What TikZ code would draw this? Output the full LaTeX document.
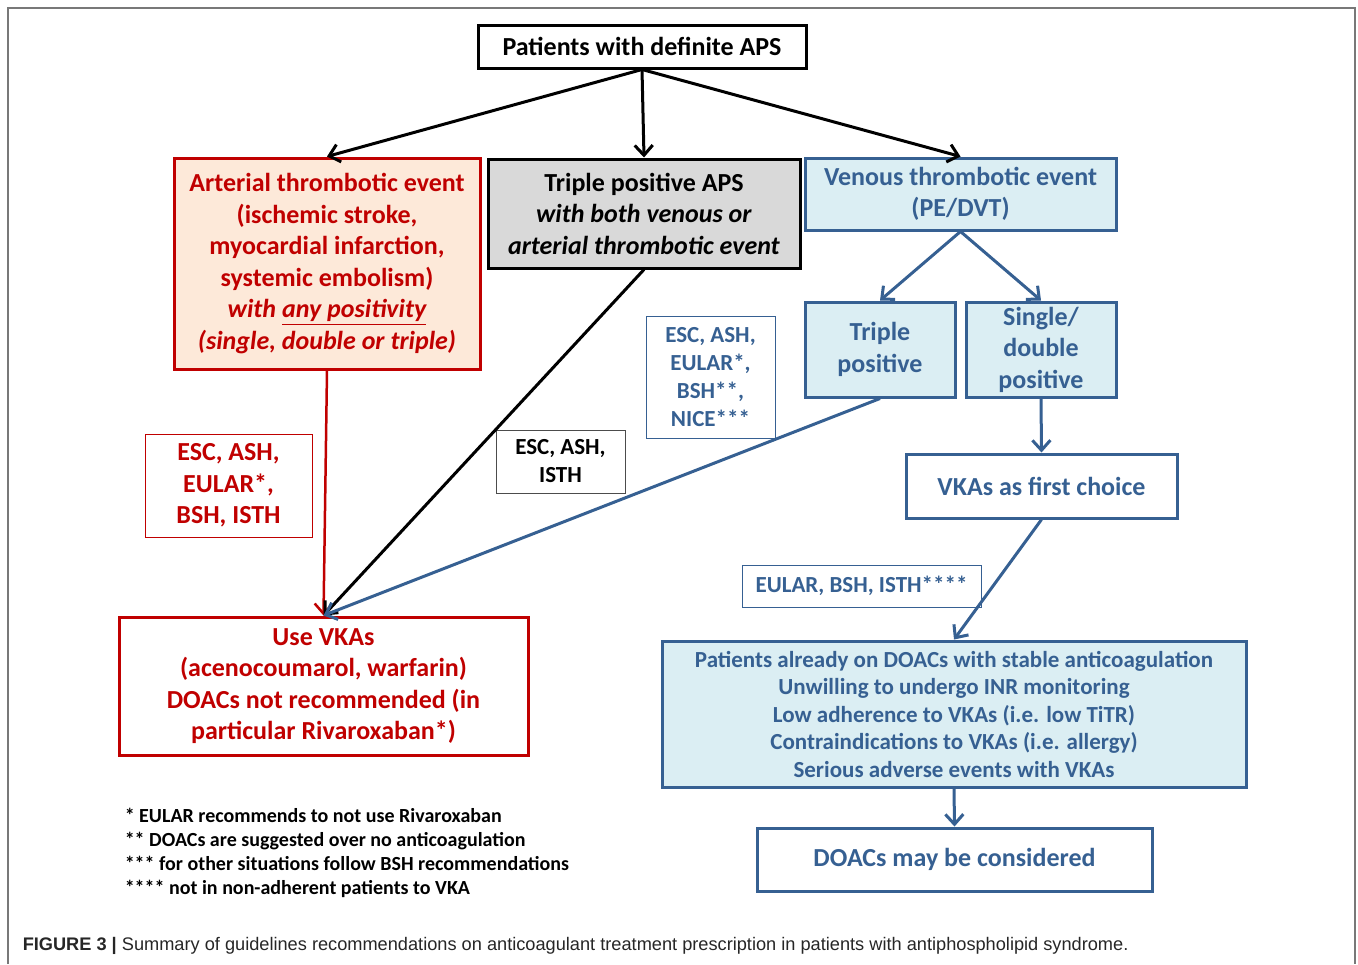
\documentclass[tikz,border=0pt]{standalone}
\usepackage{fontspec}
\setmainfont{Carlito}
\newfontfamily\capfont{Liberation Sans}
\usetikzlibrary{arrows.meta}

\definecolor{apsred}{RGB}{192,0,0}
\definecolor{apsblue}{RGB}{54,96,146}
\definecolor{apspeach}{RGB}{253,233,217}
\definecolor{apsaqua}{RGB}{219,238,243}
\definecolor{apsgray}{RGB}{217,217,217}

\tikzset{every picture/.style={line width=0.75pt}}
\tikzset{
  mainbox/.style={draw, line width=1.5pt, align=center, inner sep=0pt,
    font=\bfseries\fontsize{13}{15.75}\selectfont},
  refbox/.style={draw, line width=0.5pt, align=center, inner sep=0pt,
    font=\bfseries\fontsize{11.5}{14}\selectfont},
  flowarr/.style={line width=1.5pt, -{Straight Barb[length=5pt,width=9pt]}}
}

\begin{document}
\begin{tikzpicture}[x=0.5pt,y=0.5pt,yscale=-1,xscale=1]
\useasboundingbox (0,0) rectangle (1358,964);

%Frame
\draw [color={rgb, 255:red, 120; green, 120; blue, 120 }, line width=1pt] (8,964) -- (8,8) -- (1355,8) -- (1355,964) ;

%Shape: Rectangle [top]
\node [mainbox, minimum width=164pt, minimum height=21.5pt] (apsall) at (642,46.5) {Patients with definite APS};
%Shape: Rectangle [arterial]
\node [mainbox, draw=apsred, fill=apspeach, text=apsred, minimum width=153pt, minimum height=105.5pt] (arterial) at (327,263.5)
  {Arterial thrombotic event\\(ischemic stroke,\\myocardial infarction,\\systemic embolism)\\\textit{with \underline{any positivity}}\\\textit{(single, double or triple)}};
%Shape: Rectangle [triple APS]
\node [mainbox, fill=apsgray, minimum width=156pt, minimum height=54.5pt] (tripleaps) at (644,213.5)
  {Triple positive APS\\\textit{with both venous or}\\\textit{arterial thrombotic event}};
%Shape: Rectangle [venous]
\node [mainbox, draw=apsblue, fill=apsaqua, text=apsblue, minimum width=155.5pt, minimum height=36pt] (venous) at (960.5,194)
  {Venous thrombotic event\\(PE/DVT)};
%Shape: Rectangle [triple positive]
\node [mainbox, draw=apsblue, fill=apsaqua, text=apsblue, minimum width=75pt, minimum height=47.5pt] (tripos) at (880,349.5)
  {Triple\\positive};
%Shape: Rectangle [single/double]
\node [mainbox, draw=apsblue, fill=apsaqua, text=apsblue, minimum width=75pt, minimum height=47.5pt] (sdpos) at (1041,349.5)
  {Single/\\double\\positive};
%Shape: Rectangle [VKAs first]
\node [mainbox, draw=apsblue, text=apsblue, minimum width=135.5pt, minimum height=32pt] (vkafirst) at (1041.5,486)
  {VKAs as first choice};
%Shape: Rectangle [DOAC situations]
\node [mainbox, draw=apsblue, fill=apsaqua, text=apsblue, minimum width=292pt, minimum height=73pt,
  font=\bfseries\fontsize{11.5}{13.75}\selectfont] (doacsit) at (954,714)
  {Patients already on DOACs with stable anticoagulation\\Unwilling to undergo INR monitoring\\Low adherence to VKAs (i.e. low TiTR)\\Contraindications to VKAs (i.e. allergy)\\Serious adverse events with VKAs};
%Shape: Rectangle [DOACs considered]
\node [mainbox, draw=apsblue, text=apsblue, minimum width=197.5pt, minimum height=31.5pt] (doacmay) at (954.5,859.5)
  {DOACs may be considered};
%Shape: Rectangle [use VKAs]
\node [mainbox, draw=apsred, text=apsred, minimum width=204.5pt, minimum height=69pt] (usevka) at (323.5,686)
  {Use VKAs\\(acenocoumarol, warfarin)\\DOACs not recommended (in\\particular Rivaroxaban*)};

%Guideline labels
\node [refbox, draw=apsred, text=apsred, minimum width=83.5pt, minimum height=51.5pt,
  font=\bfseries\fontsize{13}{15.75}\selectfont] (refred) at (228.5,485.5) {ESC, ASH,\\EULAR*,\\BSH, ISTH};
\node [refbox, draw=black!70, minimum width=64.5pt, minimum height=31.5pt] (refblack) at (560.5,461.5) {ESC, ASH,\\ISTH};
\node [refbox, draw=apsblue, text=apsblue, minimum width=64.5pt, minimum height=61pt] (refblue) at (710.5,377) {ESC, ASH,\\EULAR*,\\BSH**,\\NICE***};
\node [refbox, draw=apsblue, text=apsblue, minimum width=119.5pt, minimum height=21pt] (refdoac) at (861.5,586) {EULAR, BSH, ISTH****};

%Arrows
\draw [flowarr] (apsall.south) -- (arterial.north) ;
\draw [flowarr] (apsall.south) -- (tripleaps.north) ;
\draw [flowarr] (apsall.south) -- (venous.north) ;
\draw [flowarr, apsblue] (venous.south) -- (tripos.north) ;
\draw [flowarr, apsblue] (venous.south) -- (sdpos.north) ;
\draw [flowarr, apsblue] (sdpos.south) -- (vkafirst.north) ;
\draw [flowarr, apsblue] (vkafirst.south) -- (doacsit.north) ;
\draw [flowarr, apsblue] (doacsit.south) -- (doacmay.north) ;
\draw [flowarr, apsred, line width=1.25pt] (arterial.south) -- (usevka.north) ;
\draw [flowarr] (tripleaps.south) -- (usevka.north) ;
\draw [flowarr, apsblue] (tripos.south) -- (usevka.north) ;

% Text Node
\node [anchor=north west, inner sep=0pt, align=left, font=\bfseries\fontsize{10}{12}\selectfont] (notes) at (124,807)
  {* EULAR recommends to not use Rivaroxaban\\** DOACs are suggested over no anticoagulation\\*** for other situations follow BSH recommendations\\**** not in non-adherent patients to VKA};
% Text Node
\node [anchor=west, inner sep=0pt, text=black!85, font=\capfont\fontsize{9.1}{11}\selectfont] (caption) at (22,946)
  {\textbf{FIGURE 3 |} Summary of guidelines recommendations on anticoagulant treatment prescription in patients with antiphospholipid syndrome.};

\end{tikzpicture}
\end{document}
